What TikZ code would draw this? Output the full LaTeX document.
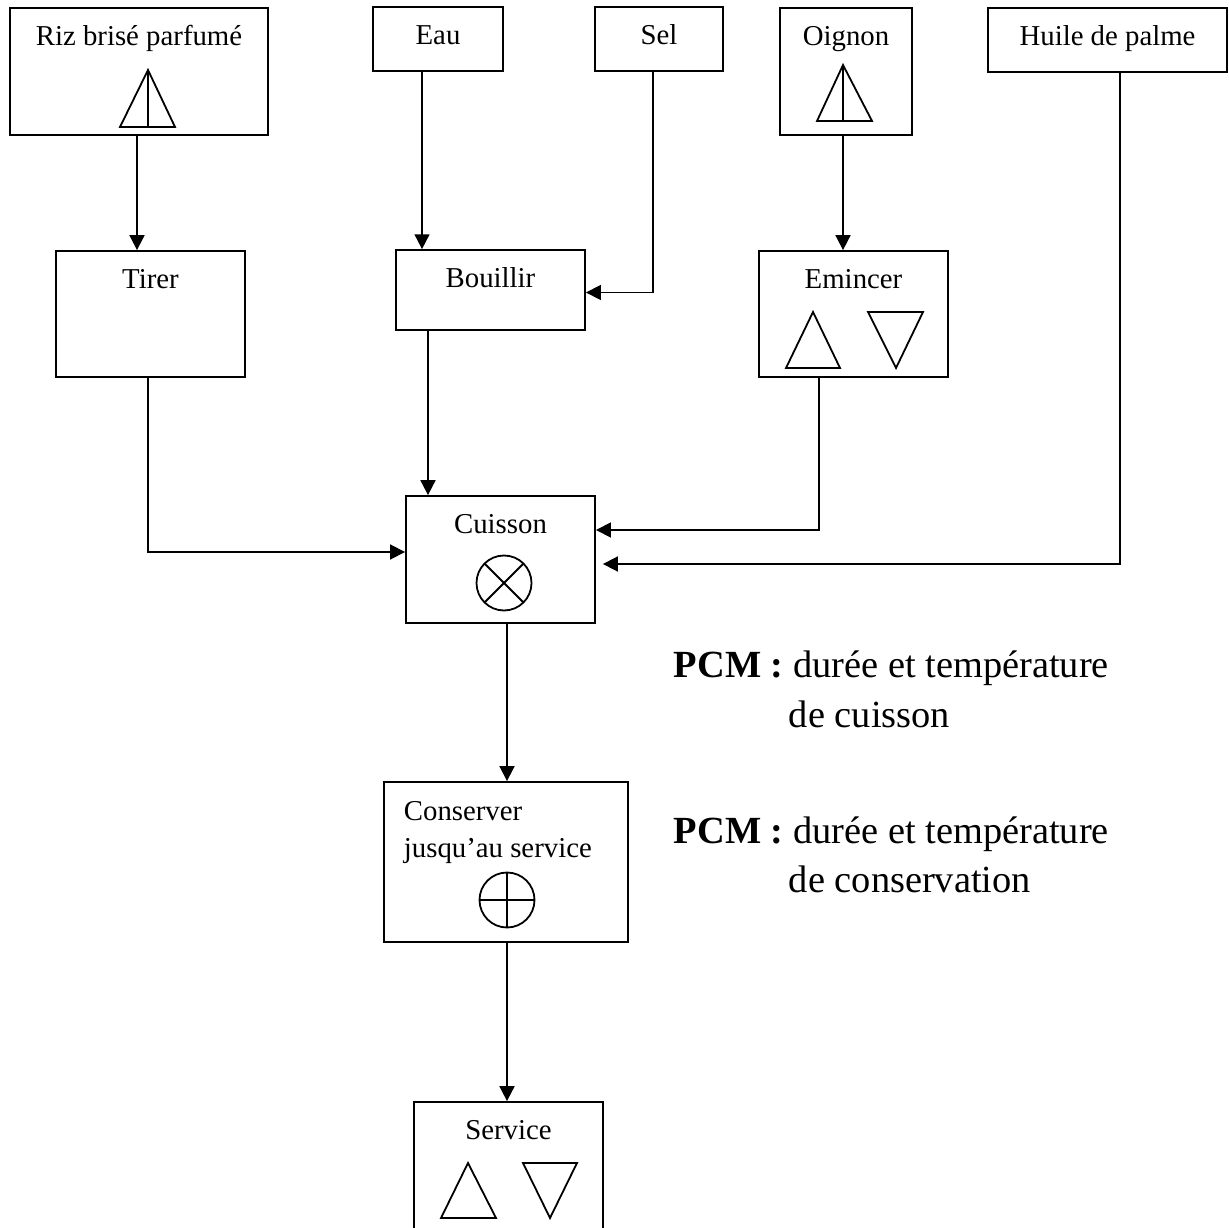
\documentclass[tikz,border=0pt]{standalone}
\usepackage{fontspec}
\setmainfont{Liberation Serif}
\usetikzlibrary{arrows.meta}

\tikzset{
  etape/.style={draw, line width=0.75pt, inner sep=0pt, text height=15.8pt,
    font=\fontsize{12}{15.3}\selectfont},
  sym/.style={line width=0.75pt, line join=miter},
  pcm/.style={inner sep=0pt, anchor=base west, font=\fontsize{16}{20.8}\selectfont},
}

\begin{document}
\begin{tikzpicture}[x=0.4167pt, y=-0.4167pt, line width=0.75pt,
    >={Triangle[length=6.2pt,width=6.2pt]}]
    \useasboundingbox (0,0) rectangle (1229,1227);
    % matieres premieres
    \node [etape, minimum width=107.5pt, minimum height=52.9pt, text depth=37.1pt] (riz) at (139,71.5) {Riz brisé parfumé};
    \node [etape, minimum width=54.2pt, minimum height=26.7pt, text depth=10.8pt] (eau) at (438,39) {Eau};
    \node [etape, minimum width=53.3pt, minimum height=26.7pt, text depth=10.8pt] (sel) at (659,39) {Sel};
    \node [etape, minimum width=55pt, minimum height=52.9pt, text depth=37.1pt] (oignon) at (846,71.5) {Oignon};
    \node [etape, minimum width=99.6pt, minimum height=26.7pt, text depth=10.8pt] (huile) at (1107.5,40) {Huile de palme};
    % operations
    \node [etape, minimum width=78.8pt, minimum height=52.5pt, text depth=36.7pt] (tirer) at (150.5,314) {Tirer};
    \node [etape, minimum width=78.8pt, minimum height=33.3pt, text depth=17.5pt] (bouillir) at (490.5,290) {Bouillir};
    \node [etape, minimum width=78.8pt, minimum height=52.5pt, text depth=36.7pt] (emincer) at (853.5,314) {Emincer};
    \node [etape, minimum width=78.8pt, minimum height=52.9pt, text depth=37.1pt] (cuisson) at (500.5,559.5) {Cuisson};
    \node [etape, minimum width=101.7pt, minimum height=66.7pt] (conserver) at (506,862) {};
    \node [anchor=north west, inner sep=0pt, align=left, font=\fontsize{12}{15.3}\selectfont] (conservertxt) at (403,800.5) {Conserver\\jusqu’au service};
    \node [etape, minimum width=78.8pt, minimum height=57.5pt, text depth=41.7pt] (service) at (508.5,1171) {Service};
    % symboles
    \draw [sym] (120,127) -- (148,70) -- (175,127) -- cycle (148,70) -- (148,127);
    \draw [sym] (817,121) -- (843,65) -- (872,121) -- cycle (843,65) -- (843,121);
    \draw [sym] (786,368) -- (813,312) -- (840,368) -- cycle;
    \draw [sym] (868,312) -- (923,312) -- (896,368) -- cycle;
    \draw [sym] (441,1218) -- (468,1163) -- (496,1218) -- cycle;
    \draw [sym] (523,1163) -- (577,1163) -- (550,1218) -- cycle;
    \draw [sym] (504,583) circle [radius=27.5];
    \draw [sym] (484.6,563.6) -- (523.4,602.4) (484.6,602.4) -- (523.4,563.6);
    \draw [sym] (507,900) circle [radius=27.5];
    \draw [sym] (479.5,900) -- (534.5,900) (507,872.5) -- (507,927.5);
    % fleches
    \draw [->] ([shift={(-2,0)}]riz.south) coordinate (r1) -- (r1 |- tirer.north);
    \draw [->] ([shift={(-2.5,0)}]tirer.south) |- ([shift={(0,-7.5)}]cuisson.west);
    \draw [->] ([shift={(-16,0)}]eau.south) coordinate (e1) -- (e1 |- bouillir.north);
    \draw [->] ([shift={(-6,0)}]sel.south) |- ([shift={(0,2.5)}]bouillir.east);
    \draw [->] ([shift={(-3,0)}]oignon.south) coordinate (o1) -- (o1 |- emincer.north);
    \draw [->] ([shift={(-62.5,0)}]bouillir.south) coordinate (b1) -- (b1 |- cuisson.north);
    \draw [->] ([shift={(-34.5,0)}]emincer.south) |- ([shift={(0,-29.5)}]cuisson.east);
    \draw [->, shorten >=2.9pt] ([shift={(12.5,0)}]huile.south) |- ([shift={(0,4.5)}]cuisson.east);
    \draw [->] ([shift={(6.5,0)}]cuisson.south) coordinate (c1) -- (c1 |- conserver.north);
    \draw [->] ([shift={(1,0)}]conserver.south) coordinate (s1) -- (s1 |- service.north);
    % points critiques
    \node [pcm] (pcm1) at (673,677) {\textbf{PCM :} durée et température};
    \node [pcm] (pcm1b) at (788,727) {de cuisson};
    \node [pcm] (pcm2) at (673,843) {\textbf{PCM :} durée et température};
    \node [pcm] (pcm2b) at (788,892) {de conservation};
\end{tikzpicture}
\end{document}
